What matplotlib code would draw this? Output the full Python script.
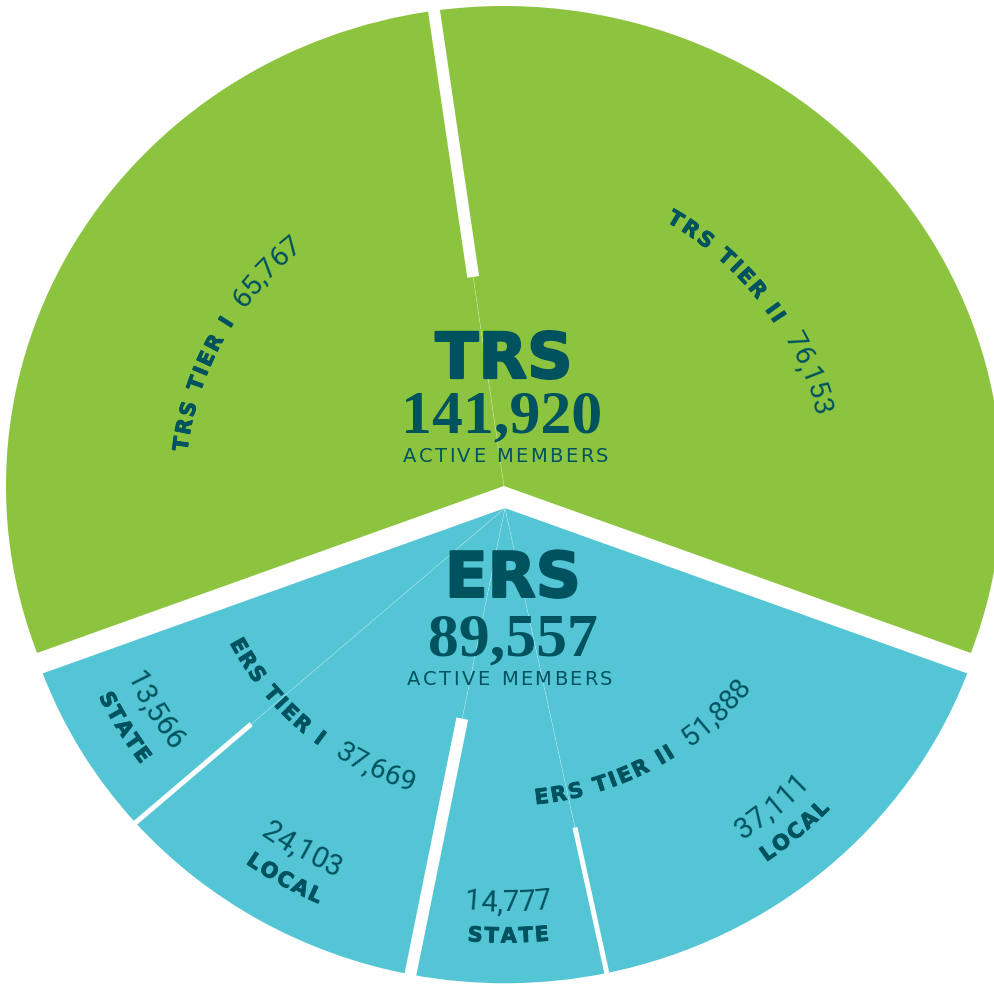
import numpy as np
import matplotlib
matplotlib.use('Agg')
import matplotlib.pyplot as plt
from matplotlib.patches import Wedge
from matplotlib.font_manager import FontProperties, findfont
from matplotlib.ft2font import FT2Font
import matplotlib.patheffects as pe

# active members
systems = ['TRS', 'ERS']
system_members = [141920, 89557]
tier_names = ['TRS TIER I', 'TRS TIER II', 'ERS TIER I', 'ERS TIER II']
tier_members = [65767, 76153, 37669, 51888]
# ERS tiers split into state / local (tier I first, then tier II)
ers_groups = ['STATE', 'LOCAL', 'STATE', 'LOCAL']
ers_group_members = [13566, 24103, 14777, 37111]

GREEN = '#8dc43f'
BLUE = '#53c5d5'
INK = '#00525e'

DPI = 100
fig = plt.figure(figsize=(9.95, 9.85), dpi=DPI)
ax = fig.add_axes([0, 0, 1, 1])
ax.set_xlim(-1.012, 0.986)
ax.set_ylim(-1.0396, 1.0125)
ax.axis('off')
PX = 489.0  # rough pixels per data unit
PXX = 498.0

trs_c = (0.0, 0.0)
ers_c = (0.002, -0.046)
R_TRS, R_ERS = 1.0, 0.99

total = sum(system_members)
ers_span = 360 * system_members[1] / total
a = 270 - ers_span / 2
ers_edges = [a]
for v in ers_group_members:
    a += 360 * v / total
    ers_edges.append(a)
trs_edges = [ers_edges[-1]]
trs_edges.append(trs_edges[0] + 360 * tier_members[1] / total)
trs_edges.append(trs_edges[1] + 360 * tier_members[0] / total)

for i in range(4):
    ax.add_patch(Wedge(ers_c, R_ERS, ers_edges[i], ers_edges[i + 1],
                       facecolor=BLUE, edgecolor='none'))
for i in range(2):
    ax.add_patch(Wedge(trs_c, R_TRS, trs_edges[i], trs_edges[i + 1],
                       facecolor=GREEN, edgecolor='none'))


def radial(c, ang, r0, r1, **kw):
    t = np.radians(ang)
    ax.plot([c[0] + r0 * np.cos(t), c[0] + r1 * np.cos(t)],
            [c[1] + r0 * np.sin(t), c[1] + r1 * np.sin(t)],
            solid_capstyle='butt', **kw)


faint = dict(color='white', lw=0.5, alpha=0.3)
radial(trs_c, trs_edges[1], 0, 0.44, **faint)
radial(trs_c, trs_edges[1], 0.44, 1.06, color='white', lw=8.6)
radial(ers_c, ers_edges[2], 0, 0.447, **faint)
radial(ers_c, ers_edges[2], 0.447, 1.06, color='white', lw=8.6)
for k in (1, 3):
    radial(ers_c, ers_edges[k], 0, 0.68, **faint)
    radial(ers_c, ers_edges[k], 0.68, 1.06, color='white', lw=3.6)


def advances(s, fp):
    font = FT2Font(findfont(fp))
    font.set_size(fp.get_size_in_points(), DPI)
    return [font.load_char(ord(ch)).linearHoriAdvance / 65536 for ch in s]


def heavy(w):
    return [pe.withStroke(linewidth=w, foreground=INK)]


def arc_label(c, r, mid, pieces, inward, gap=17):
    items = []
    pos = 0
    for k, (s, fp, track, fx) in enumerate(pieces):
        if k:
            pos += gap
        for ch, w in zip(s, advances(s, fp)):
            items.append((ch, fp, fx, pos + w / 2))
            pos += w + track
        pos -= track
    sign = 1 if inward else -1
    for ch, fp, fx, p in items:
        if ch == ' ':
            continue
        th = mid + sign * np.degrees((p - pos / 2) / (PX * r))
        t = np.radians(th)
        rot = th + 90 if inward else th - 90
        ax.text(c[0] + r * np.cos(t), c[1] + r * np.sin(t), ch,
                fontproperties=fp, color=INK, rotation=rot,
                rotation_mode='anchor', ha='center', va='baseline',
                transform_rotates_text=True, path_effects=fx)


def line_label(x, y, s, fp, track):
    adv = advances(s, fp)
    width = sum(adv) + track * (len(s) - 1)
    pos = -width / 2
    for ch, w in zip(s, adv):
        if ch != ' ':
            ax.text(x + (pos + w / 2) / PXX, y, ch, fontproperties=fp,
                    color=INK, ha='center', va='baseline')
        pos += w + track


fp_head = FontProperties(family='DejaVu Sans', weight='bold', size=45.5)
fp_big = FontProperties(family='Liberation Serif', weight='bold', size=44.5)
fp_sub = FontProperties(family='DejaVu Sans', size=14)
fp_tier = FontProperties(family='DejaVu Sans', weight='bold', size=15)
fp_num = FontProperties(family=['Roboto', 'DejaVu Sans'], size=20.5)
fp_num2 = FontProperties(family=['Roboto', 'DejaVu Sans'], size=21)
fp_grp = FontProperties(family='DejaVu Sans', weight='bold', size=15)

# tier labels
trs_mid = [(trs_edges[1] + trs_edges[2]) / 2 + 2.1, (trs_edges[0] + trs_edges[1]) / 2 - 2.6]
for name, val, mid in zip(tier_names[:2], tier_members[:2], trs_mid):
    arc_label(trs_c, 0.64, mid, [(name, fp_tier, 2.3, heavy(0.6)), (f'{val:,}', fp_num, 0, None)],
              inward=False)
ers_mid = [(ers_edges[0] + ers_edges[2]) / 2, (ers_edges[2] + ers_edges[4]) / 2]
for name, val, mid in zip(tier_names[2:], tier_members[2:], ers_mid):
    arc_label(ers_c, 0.62, mid, [(name, fp_tier, 2.0, heavy(0.6)), (f'{val:,}', fp_num, 0, None)],
              inward=True)

# state / local labels
for i, (g, val) in enumerate(zip(ers_groups, ers_group_members)):
    mid = (ers_edges[i] + ers_edges[i + 1]) / 2
    arc_label(ers_c, 0.84, mid, [(f'{val:,}', fp_num2, 0, None)], inward=True)
    arc_label(ers_c, 0.905, mid, [(g, fp_grp, 1.8, heavy(0.6))], inward=True)

# centre labels
ax.text(0.0, 0.225, systems[0], fontproperties=fp_head, color=INK, ha='center', va='baseline',
        path_effects=heavy(1.6))
ax.text(-0.005, 0.1125, f'{system_members[0]:,}', fontproperties=fp_big, color=INK, ha='center', va='baseline')
line_label(0.003, 0.05, 'ACTIVE MEMBERS', fp_sub, 2.4)
ax.text(0.018, -0.231, systems[1], fontproperties=FontProperties(family='DejaVu Sans', weight='bold', size=45),
        color=INK, ha='center', va='baseline', path_effects=heavy(1.6))
ax.text(0.017, -0.354, f'{system_members[1]:,}', fontproperties=fp_big, color=INK, ha='center', va='baseline')
line_label(0.012, -0.4146, 'ACTIVE MEMBERS', fp_sub, 2.4)

fig.savefig('out.png', dpi=DPI)
